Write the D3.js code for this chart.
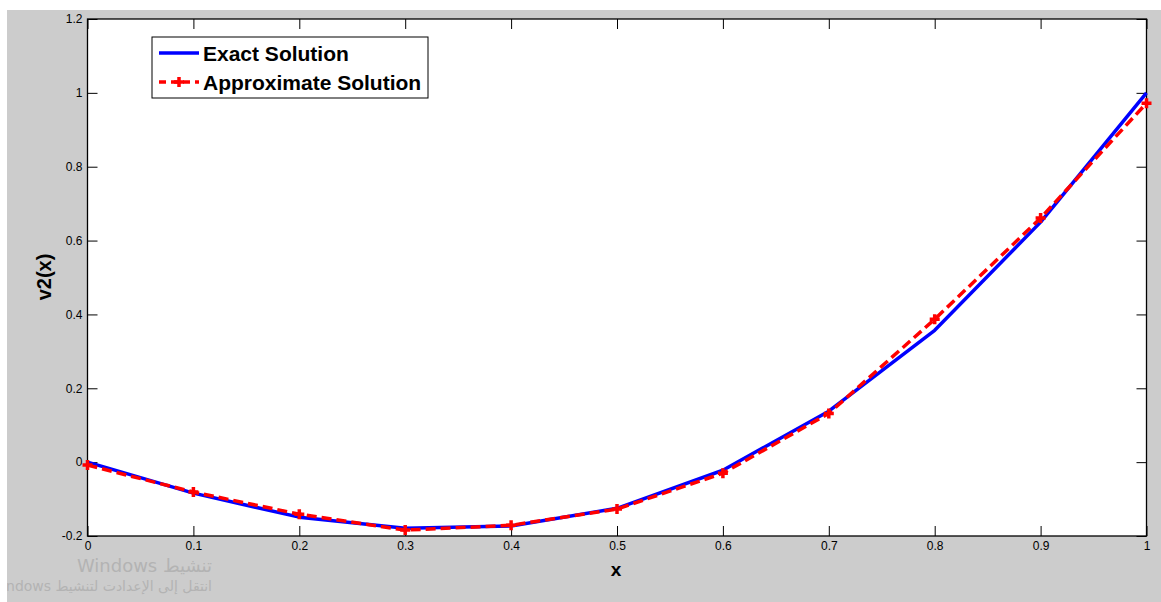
<!DOCTYPE html>
<html><head><meta charset="utf-8">
<script src="https://cdn.jsdelivr.net/npm/d3@7"></script>
<style>body{margin:0;background:#fff;}svg{display:block;}</style>
</head><body>
<script>
const xValues = [0, 0.1, 0.2, 0.3, 0.4, 0.5, 0.6, 0.7, 0.8, 0.9, 1.0];
const exactValues = [0, -0.084, -0.149, -0.179, -0.173, -0.125, -0.022, 0.138, 0.357, 0.650, 1.0];
const approxValues = [-0.008, -0.081, -0.141, -0.184, -0.171, -0.127, -0.030, 0.132, 0.387, 0.661, 0.972];
const xTicks = [0, 0.1, 0.2, 0.3, 0.4, 0.5, 0.6, 0.7, 0.8, 0.9, 1];
const yTicks = [-0.2, 0, 0.2, 0.4, 0.6, 0.8, 1, 1.2];
const seriesNames = ["Exact Solution", "Approximate Solution"];

const W = 1161, H = 602;
const L = 87.5, R = 1146.5, T = 19, B = 536;
const svg = d3.select("body").append("svg").attr("width", W).attr("height", H);
svg.append("rect").attr("x", 7).attr("y", 10).attr("width", W - 7).attr("height", H - 10).attr("fill", "#cccccc");

const x = d3.scaleLinear().domain([0, 1]).range([L, R]);
const y = d3.scaleLinear().domain([-0.2, 1.2]).range([B, T]);

svg.append("rect").attr("x", L).attr("y", T).attr("width", R - L).attr("height", B - T)
  .attr("fill", "#fff").attr("stroke", "#000").attr("stroke-width", 1.3);

const fmt = d => (Math.abs(d) < 1e-9 ? "0" : String(+d.toFixed(1)));
const font = "Liberation Sans, Arial, sans-serif";

// axes
const gx = svg.append("g").attr("transform", `translate(0,${B})`)
  .call(d3.axisBottom(x).tickValues(xTicks).tickFormat(fmt).tickSizeInner(-10).tickSizeOuter(0).tickPadding(5));
const gxt = svg.append("g").attr("transform", `translate(0,${T})`)
  .call(d3.axisTop(x).tickValues(xTicks).tickFormat("").tickSizeInner(-10).tickSizeOuter(0));
const gy = svg.append("g").attr("transform", `translate(${L},0)`)
  .call(d3.axisLeft(y).tickValues(yTicks).tickFormat(fmt).tickSizeInner(-10).tickSizeOuter(0).tickPadding(5));
const gyr = svg.append("g").attr("transform", `translate(${R},0)`)
  .call(d3.axisRight(y).tickValues(yTicks).tickFormat("").tickSizeInner(-10).tickSizeOuter(0));
[gx, gxt, gy, gyr].forEach(g => {
  g.select(".domain").remove();
  g.selectAll("line").attr("stroke", "#000").attr("stroke-width", 1);
  g.selectAll("text").attr("font-family", font).attr("font-size", 12).attr("fill", "#000");
});
gx.selectAll("text").attr("dy", "0.72em");

// lines
const pts = (vals) => xValues.map((v, i) => [v, vals[i]]);
const line = d3.line().x(d => x(d[0])).y(d => y(d[1]));
svg.append("path").attr("d", line(pts(exactValues))).attr("fill", "none")
  .attr("stroke", "#0000ff").attr("stroke-width", 3.5).attr("stroke-linejoin", "round");
svg.append("path").attr("d", line(pts(approxValues))).attr("fill", "none")
  .attr("stroke", "#ff0000").attr("stroke-width", 3.5).attr("stroke-dasharray", "10,5");
const plus = (g, cx, cy) => {
  g.append("path").attr("d", `M${cx - 5},${cy}H${cx + 5}M${cx},${cy - 5}V${cy + 5}`)
    .attr("stroke", "#ff0000").attr("stroke-width", 3.5).attr("fill", "none");
};
const mk = svg.append("g");
pts(approxValues).forEach(d => plus(mk, x(d[0]), y(d[1])));

// labels
svg.append("text").attr("x", 616).attr("y", 576).attr("text-anchor", "middle")
  .attr("font-family", font).attr("font-weight", "bold").attr("font-size", 19).text("x");
svg.append("text").attr("transform", "translate(51,277) rotate(-90)").attr("text-anchor", "middle")
  .attr("font-family", font).attr("font-weight", "bold").attr("font-size", 20).text("v2(x)");

// legend
const lg = svg.append("g");
lg.append("rect").attr("x", 152).attr("y", 37).attr("width", 276).attr("height", 61)
  .attr("fill", "#fff").attr("stroke", "#000").attr("stroke-width", 1);
lg.append("line").attr("x1", 159).attr("x2", 199).attr("y1", 53).attr("y2", 53)
  .attr("stroke", "#0000ff").attr("stroke-width", 3.5);
lg.append("line").attr("x1", 159).attr("x2", 199).attr("y1", 82).attr("y2", 82)
  .attr("stroke", "#ff0000").attr("stroke-width", 3.5).attr("stroke-dasharray", "7,5");
plus(lg, 179, 82);
lg.selectAll("text.l").data(seriesNames).join("text")
  .attr("x", 203).attr("y", (d, i) => 60.5 + i * 29)
  .attr("font-family", font).attr("font-weight", "bold").attr("font-size", 21).attr("fill", "#000").text(d => d);

// watermark
svg.append("clipPath").attr("id", "cp").append("rect").attr("x", 7).attr("y", 10).attr("width", W).attr("height", H);
const wm = svg.append("g").attr("clip-path", "url(#cp)");
wm.append("text").attr("x", 212).attr("y", 572).attr("text-anchor", "end")
  .attr("font-family", "DejaVu Sans, sans-serif").attr("font-size", 18).attr("fill", "#b3b3b3").text("Windows تنشيط");
wm.append("text").attr("x", 212).attr("y", 591).attr("text-anchor", "end")
  .attr("font-family", "DejaVu Sans, sans-serif").attr("font-size", 14).attr("fill", "#b3b3b3")
  .text("Windows انتقل إلى الإعدادت لتنشيط");
</script>
</body></html>
